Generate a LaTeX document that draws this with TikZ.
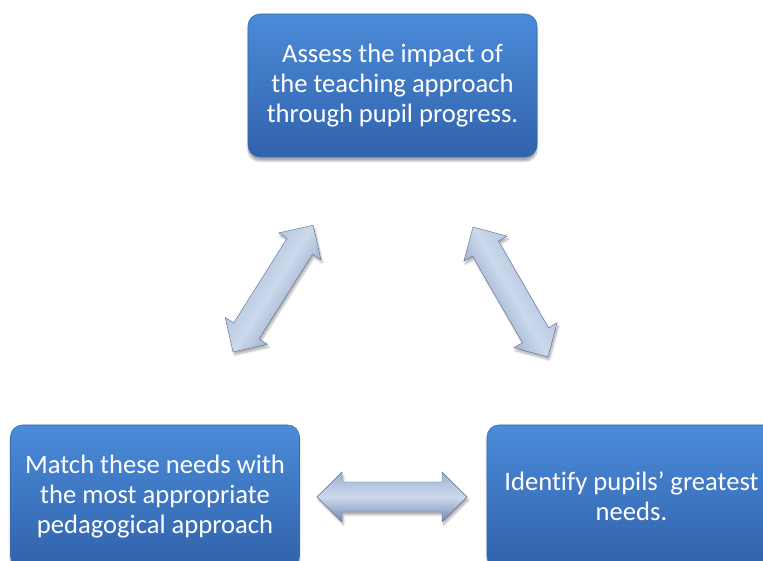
\documentclass[tikz,border=0pt]{standalone}
\usepackage{fontspec}
\setmainfont{Carlito}[Ligatures=NoCommon]
\usetikzlibrary{shadows.blur,calc}
\definecolor{boxtop}{HTML}{4B8BD8}
\definecolor{boxbot}{HTML}{3162AC}
\definecolor{boxedge}{HTML}{386BB2}
\definecolor{arrlight}{HTML}{CCD9EC}
\definecolor{arrmid}{HTML}{9DB2D3}
\definecolor{arrdark}{HTML}{7189B2}
\tikzset{
  stagebox/.style={rectangle, rounded corners=12pt, minimum width=289pt, minimum height=143pt,
    inner sep=0pt, top color=boxtop, bottom color=boxbot, draw=boxedge, line width=0.6pt,
    text=white, align=center, font=\fontsize{26.6}{29.6}\selectfont,
    blur shadow={shadow xshift=0pt, shadow yshift=-4pt, shadow blur steps=6, shadow opacity=35}},
  dblarrow/.pic={
    \shade[top color=arrmid, bottom color=arrdark, middle color=arrlight, shading angle=#1,
      draw=arrdark!80!black, line width=0.4pt,
      blur shadow={shadow xshift=1.5pt, shadow yshift=-3pt, shadow blur steps=5, shadow opacity=30}]
      (0,0) -- (25,25) -- (25,15) -- (125,15) -- (125,25) -- (150,0) -- (125,-25) -- (125,-15)
      -- (25,-15) -- (25,-25) -- cycle;
  }
}
\begin{document}
\begin{tikzpicture}[x=1pt,y=1pt]
\useasboundingbox (0,0) rectangle (763,561);
\node[stagebox] (assess) at (392.5,475.5) {Assess the impact of\\the teaching approach\\through pupil progress.};
\node[stagebox] (match) at (155,64.5) {Match these needs with\\the most appropriate\\pedagogical approach};
\node[stagebox] (identify) at (631.5,64.5) {Identify pupils’ greatest\\needs.};
\coordinate (la1) at (233,209);
\coordinate (la2) at (312,334);
\coordinate (ra1) at (473,334);
\coordinate (ra2) at (548,204);
\coordinate (ha1) at (317,64);
\coordinate (ha2) at (467,64);
\path let \p1=(la1), \p2=(la2), \n1={atan2(\y2-\y1,\x2-\x1)} in pic[rotate=\n1] at (\p1) {dblarrow=\n1};
\path let \p1=(ra1), \p2=(ra2), \n1={atan2(\y2-\y1,\x2-\x1)} in pic[rotate=\n1] at (\p1) {dblarrow=\n1};
\path let \p1=(ha1), \p2=(ha2), \n1={atan2(\y2-\y1,\x2-\x1)} in pic[rotate=\n1] at (\p1) {dblarrow=\n1};
\end{tikzpicture}
\end{document}
